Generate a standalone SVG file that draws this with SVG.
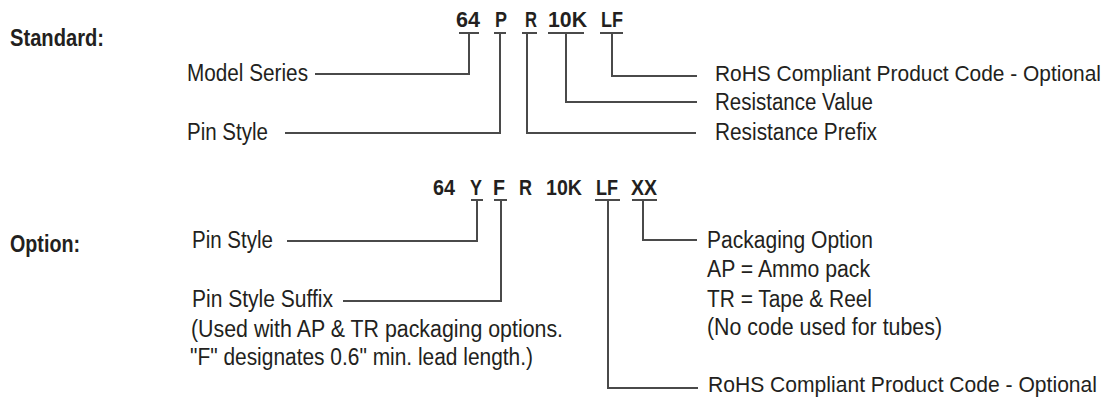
<svg xmlns="http://www.w3.org/2000/svg" width="1111" height="398" viewBox="0 0 1111 398">
<style>
text{font-family:"Liberation Sans",Arial,sans-serif;fill:#231f20;}
.lbl{font-size:23px;}
.rohs{font-size:21.2px;}
.hdr{font-size:23px;font-weight:bold;}
.code{font-size:22px;font-weight:bold;}
.ln{fill:none;stroke:#4a4a4a;stroke-width:2;}
</style>
<rect width="1111" height="398" fill="#ffffff"/>
<g id="headers">
<text class="hdr" x="10" y="46" textLength="94" lengthAdjust="spacingAndGlyphs">Standard:</text>
<text class="hdr" x="10" y="252" textLength="70" lengthAdjust="spacingAndGlyphs">Option:</text>
</g>
<g id="code-standard">
<text class="code" x="456" y="27" textLength="24" lengthAdjust="spacingAndGlyphs">64</text>
<text class="code" x="495" y="27" textLength="12" lengthAdjust="spacingAndGlyphs">P</text>
<text class="code" x="525" y="27" textLength="12" lengthAdjust="spacingAndGlyphs">R</text>
<text class="code" x="548" y="27" textLength="39" lengthAdjust="spacingAndGlyphs">10K</text>
<text class="code" x="601" y="27" textLength="22" lengthAdjust="spacingAndGlyphs">LF</text>
</g>
<g id="code-option">
<text class="code" x="433" y="195" textLength="22" lengthAdjust="spacingAndGlyphs">64</text>
<text class="code" x="470" y="195" textLength="12" lengthAdjust="spacingAndGlyphs">Y</text>
<text class="code" x="493" y="195" textLength="12" lengthAdjust="spacingAndGlyphs">F</text>
<text class="code" x="519" y="195" textLength="13" lengthAdjust="spacingAndGlyphs">R</text>
<text class="code" x="546" y="195" textLength="36" lengthAdjust="spacingAndGlyphs">10K</text>
<text class="code" x="596" y="195" textLength="22" lengthAdjust="spacingAndGlyphs">LF</text>
<text class="code" x="631" y="195" textLength="26" lengthAdjust="spacingAndGlyphs">XX</text>
</g>
<g id="node-model-series"><text class="lbl" x="187" y="81" textLength="121" lengthAdjust="spacingAndGlyphs">Model Series</text></g>
<g id="node-pin-style-std"><text class="lbl" x="187" y="140" textLength="81" lengthAdjust="spacingAndGlyphs">Pin Style</text></g>
<g id="node-rohs-std"><text class="lbl rohs" x="715" y="81" textLength="386" lengthAdjust="spacingAndGlyphs">RoHS Compliant Product Code - Optional</text></g>
<g id="node-res-value"><text class="lbl" x="715" y="110" textLength="158" lengthAdjust="spacingAndGlyphs">Resistance Value</text></g>
<g id="node-res-prefix"><text class="lbl" x="715" y="140" textLength="162" lengthAdjust="spacingAndGlyphs">Resistance Prefix</text></g>
<g id="node-pin-style-opt"><text class="lbl" x="192" y="248" textLength="81" lengthAdjust="spacingAndGlyphs">Pin Style</text></g>
<g id="node-pin-style-suffix">
<text class="lbl" x="192" y="307" textLength="141" lengthAdjust="spacingAndGlyphs">Pin Style Suffix</text>
<text class="lbl" x="191" y="337" textLength="372" lengthAdjust="spacingAndGlyphs">(Used with AP &amp; TR packaging options.</text>
<text class="lbl" x="190" y="365" textLength="343" lengthAdjust="spacingAndGlyphs">"F" designates 0.6" min. lead length.)</text>
</g>
<g id="node-packaging">
<text class="lbl" x="707" y="248" textLength="166" lengthAdjust="spacingAndGlyphs">Packaging Option</text>
<text class="lbl" x="707" y="277" textLength="163" lengthAdjust="spacingAndGlyphs">AP = Ammo pack</text>
<text class="lbl" x="707" y="307" textLength="165" lengthAdjust="spacingAndGlyphs">TR = Tape &amp; Reel</text>
<text class="lbl" x="707" y="335" textLength="235" lengthAdjust="spacingAndGlyphs">(No code used for tubes)</text>
</g>
<g id="node-rohs-opt"><text class="lbl rohs" x="708" y="392" textLength="389" lengthAdjust="spacingAndGlyphs">RoHS Compliant Product Code - Optional</text></g>
<g id="connectors">
<path class="ln" d="M459 33H479M469 33V74H315"/>
<path class="ln" d="M494 33H506M500 33V133H285"/>
<path class="ln" d="M522 33H537M527 33V133H696"/>
<path class="ln" d="M548 33H584M566 33V102H697"/>
<path class="ln" d="M600 33H623M612 33V76H697"/>
<path class="ln" d="M471 200H483M477 200V241H287"/>
<path class="ln" d="M494 200H507M501 200V301H343"/>
<path class="ln" d="M595 200H620M608 200V388H698"/>
<path class="ln" d="M632 200H657M643 200V240H697"/>
</g>
</svg>
